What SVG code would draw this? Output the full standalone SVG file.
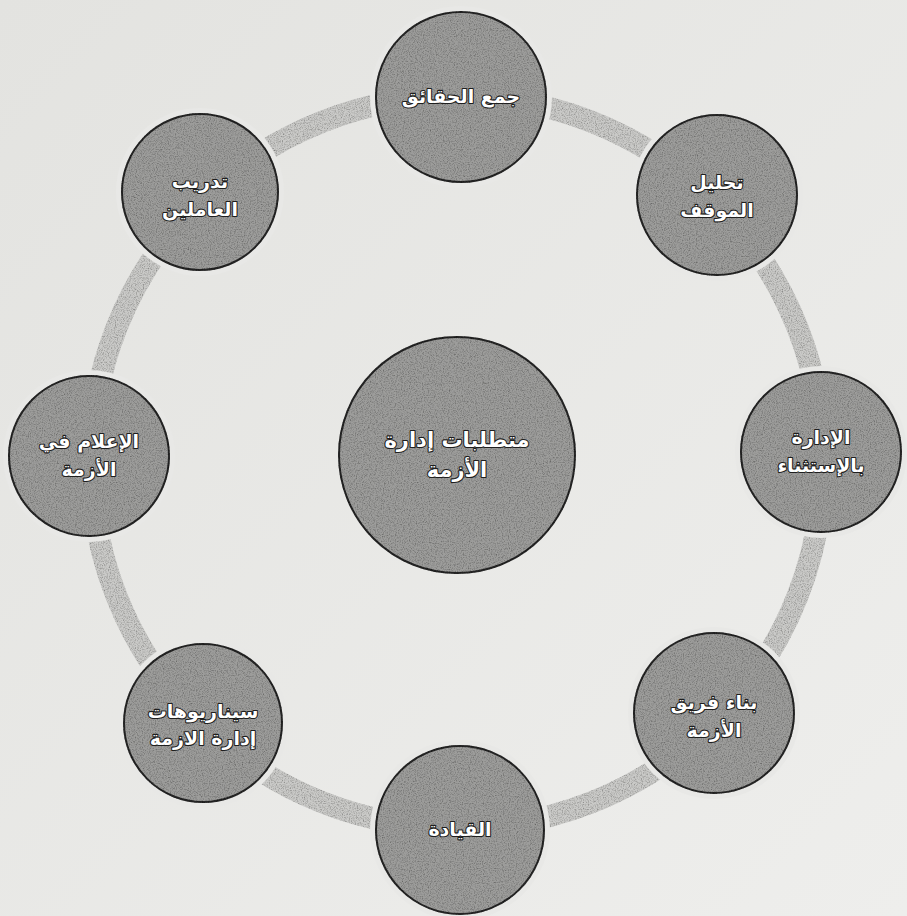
<svg xmlns="http://www.w3.org/2000/svg" width="907" height="916" viewBox="0 0 907 916">
  <defs>
    <filter id="grain" x="-5%" y="-5%" width="110%" height="110%">
      <feTurbulence type="fractalNoise" baseFrequency="0.85" numOctaves="2" seed="4" result="n"/>
      <feColorMatrix in="n" type="matrix" values="0 0 0 0 0  0 0 0 0 0  0 0 0 0 0  0 0 0 1.3 -0.55" result="a"/>
      <feComposite in="a" in2="SourceGraphic" operator="in" result="spots"/>
      <feMerge><feMergeNode in="SourceGraphic"/><feMergeNode in="spots"/></feMerge>
    </filter>
    <linearGradient id="bg" x1="0" y1="0" x2="1" y2="1">
      <stop offset="0" stop-color="#e3e3e0"/>
      <stop offset="1" stop-color="#eeeeec"/>
    </linearGradient>
  </defs>
  <style>
    .halo { fill: #e8e8e6; }
    .node { fill: #9d9d9b; stroke: #262626; stroke-width: 2; }
    .lbl { font-family: "DejaVu Sans", "Noto Sans", sans-serif; font-weight: bold; font-size: 19px; fill: #ffffff; stroke: #1e1e1e; stroke-width: 2.2; paint-order: stroke; stroke-linejoin: round; text-anchor: middle; direction: rtl; }
    .big { font-size: 21px; }
    .ring { fill: none; stroke: #cacac8; stroke-width: 22; }
  </style>
  <rect width="907" height="916" fill="url(#bg)"/>

  <g id="connectors">
    <circle class="ring" cx="457" cy="462" r="366" filter="url(#grain)"/>
  </g>

  <g id="center">
    <circle class="node" cx="457" cy="455" r="118" filter="url(#grain)"/>
    <text class="lbl big" x="457" y="447">متطلبات إدارة</text>
    <text class="lbl big" x="457" y="477">الأزمة</text>
  </g>

  <g id="n-top">
    <circle class="halo" cx="461" cy="97" r="91"/>
    <circle class="node" cx="461" cy="97" r="85" filter="url(#grain)"/>
    <text class="lbl" x="461" y="103">جمع الحقائق</text>
  </g>

  <g id="n-topright">
    <circle class="halo" cx="717" cy="195" r="86"/>
    <circle class="node" cx="717" cy="195" r="80" filter="url(#grain)"/>
    <text class="lbl" x="717" y="189">تحليل</text>
    <text class="lbl" x="717" y="217">الموقف</text>
  </g>

  <g id="n-right">
    <circle class="halo" cx="821" cy="452" r="86"/>
    <circle class="node" cx="821" cy="452" r="80" filter="url(#grain)"/>
    <text class="lbl" x="821" y="444">الإدارة</text>
    <text class="lbl" x="821" y="472">بالإستثناء</text>
  </g>

  <g id="n-bottomright">
    <circle class="halo" cx="714" cy="713" r="86"/>
    <circle class="node" cx="714" cy="713" r="80" filter="url(#grain)"/>
    <text class="lbl" x="714" y="709">بناء فريق</text>
    <text class="lbl" x="714" y="737">الأزمة</text>
  </g>

  <g id="n-bottom">
    <circle class="halo" cx="460" cy="830" r="90"/>
    <circle class="node" cx="460" cy="830" r="84" filter="url(#grain)"/>
    <text class="lbl" x="460" y="836">القيادة</text>
  </g>

  <g id="n-bottomleft">
    <circle class="halo" cx="203" cy="723" r="85"/>
    <circle class="node" cx="203" cy="723" r="79" filter="url(#grain)"/>
    <text class="lbl" x="203" y="718">سيناريوهات</text>
    <text class="lbl" x="203" y="745">إدارة الازمة</text>
  </g>

  <g id="n-left">
    <circle class="halo" cx="89" cy="456" r="86"/>
    <circle class="node" cx="89" cy="456" r="80" filter="url(#grain)"/>
    <text class="lbl" x="89" y="448">الإعلام في</text>
    <text class="lbl" x="89" y="476">الأزمة</text>
  </g>

  <g id="n-topleft">
    <circle class="halo" cx="200" cy="192" r="84"/>
    <circle class="node" cx="200" cy="192" r="78" filter="url(#grain)"/>
    <text class="lbl" x="200" y="188">تدريب</text>
    <text class="lbl" x="200" y="216">العاملين</text>
  </g>
</svg>
